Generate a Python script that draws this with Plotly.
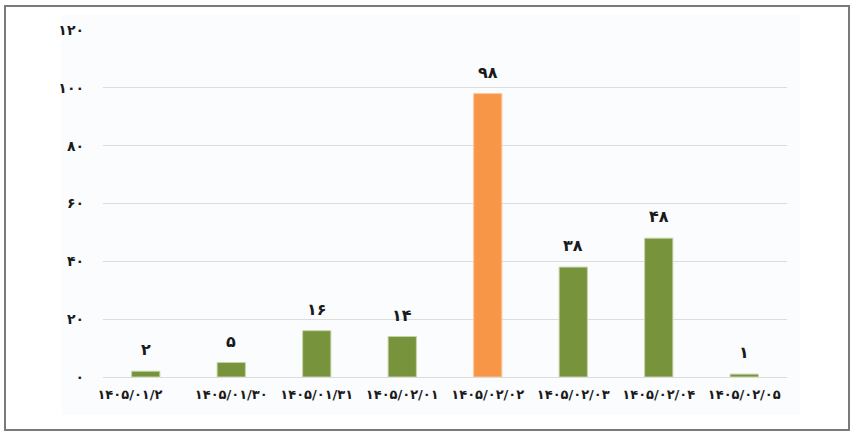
import plotly.graph_objects as go

# Sample data (Persian dates and counts)
# the first label carries trailing no-break spaces, as in the source chart
dates = ['۱۴۰۵/۰۱/۲' + '\u00a0' * 7, '۱۴۰۵/۰۱/۳۰', '۱۴۰۵/۰۱/۳۱', '۱۴۰۵/۰۲/۰۱',
         '۱۴۰۵/۰۲/۰۲', '۱۴۰۵/۰۲/۰۳', '۱۴۰۵/۰۲/۰۴', '۱۴۰۵/۰۲/۰۵']
counts = [2, 5, 16, 14, 98, 38, 48, 1]
count_labels = ['۲', '۵', '۱۶', '۱۴', '۹۸', '۳۸', '۴۸', '۱']
y_ticks = [0, 20, 40, 60, 80, 100, 120]
y_tick_labels = ['۰', '۲۰', '۴۰', '۶۰', '۸۰', '۱۰۰', '۱۲۰']

green = '#77933C'
orange = '#F79646'
colors = [orange if v == max(counts) else green for v in counts]
edges = ['#fbc89c' if v == max(counts) else '#c3d4a4' for v in counts]

# body margin is removed below, so the figure fills the whole window
W, H = 856, 440
L, R, T, B = 103, 69, 30, 63
pw, ph = W - L - R, H - T - B

def px(x):
    return (x - L) / pw

def py(y):
    return (H - B - y) / ph

fig = go.Figure(go.Bar(
    x = dates,
    y = counts,
    marker = dict(color = colors, line = dict(color = edges, width = 1)),
))

# value labels above the bars
for d, v, t in zip(dates, counts, count_labels):
    fig.add_annotation(x = d, y = v, text = t, showarrow = False,
                       yanchor = 'bottom', yshift = 10,
                       font = dict(family = 'DejaVu Sans', size = 16,
                                   color = '#1a1a1a', weight = 'bold'))

fig.update_layout(
    width = W, height = H,
    margin = dict(l = L, r = R, t = T, b = B, autoexpand = False),
    paper_bgcolor = 'white',
    plot_bgcolor = 'rgba(0,0,0,0)',
    bargap = 0.67,
    showlegend = False,
    font = dict(family = 'DejaVu Sans', size = 12, color = '#1a1a1a'),
    xaxis = dict(
        showgrid = False, showline = False, ticks = '',
        tickangle = 0, automargin = False,
        tickfont = dict(size = 13, color = '#1a1a1a', weight = 'bold'),
        ticklabelstandoff = 8,
    ),
    yaxis = dict(
        range = [0, 120], tickvals = y_ticks, ticktext = y_tick_labels,
        showgrid = True, gridcolor = '#dcdcdc', gridwidth = 1,
        zeroline = True, zerolinecolor = '#dcdcdc', zerolinewidth = 1,
        showline = False, ticks = '', automargin = False,
        tickfont = dict(size = 14, color = '#1a1a1a', weight = 'bold'),
        ticklabelstandoff = 18,
    ),
    shapes = [
        # light inner background
        dict(type = 'rect', xref = 'paper', yref = 'paper', layer = 'below',
             x0 = px(62), x1 = px(800), y0 = py(415), y1 = py(15),
             fillcolor = '#fbfcfe', line = dict(width = 0)),
        # outer frame
        dict(type = 'rect', xref = 'paper', yref = 'paper', layer = 'above',
             x0 = px(5), x1 = px(849), y0 = py(430), y1 = py(6),
             line = dict(color = '#7a7a7a', width = 2)),
    ],
)

fig.write_html("out.html",
               config = {'displayModeBar': False},
               post_script = "document.body.style.margin='0';"
                             "document.body.style.overflow='hidden';")
